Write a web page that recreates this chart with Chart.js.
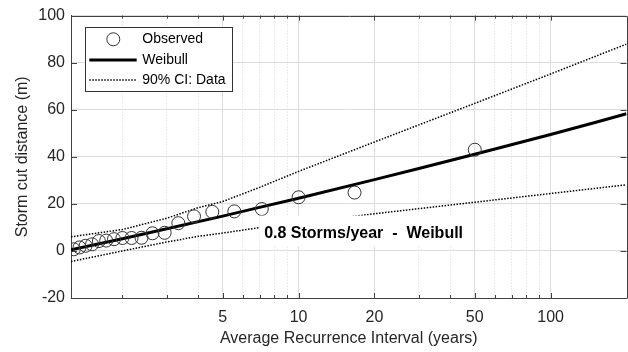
<!DOCTYPE html>
<html><head><meta charset="utf-8">
<script src="https://cdn.jsdelivr.net/npm/chart.js@4"></script>
<style>
html,body{margin:0;padding:0;background:#fff;overflow:hidden;width:628px;height:352px}
#wrap{position:relative;width:634px;height:352px}
</style>
</head><body><div id="wrap"><canvas id="c" width="634" height="352"></canvas></div>
<script>
// ---------- data ----------
const recurrence = [1.282,1.351,1.429,1.515,1.613,1.724,1.852,2.0,2.174,2.381,2.632,2.941,3.333,3.846,4.545,5.556,7.143,10,16.67,50];
const observed   = [0.7,1.5,2.2,2.8,4.2,4.4,5.0,5.5,5.5,5.6,7.5,7.7,11.8,14.7,16.6,16.8,17.8,22.8,24.8,43];

const fitT    = [1.25,2,3,5,7,10,20,30,50,100,150,200];
const weibull = [0.5,5.2,9.4,14.8,18.5,22.4,30.3,35.0,41.1,49.5,54.6,58.3];

const ciT     = [1.25,2,3,4,5,7,10,20,50,100,200];
const ciUpper = [6.0,9.1,13.9,18.4,21.0,27.0,33.8,46.3,62.7,75.2,87.9];
const ciLower = [-4.5,0.0,3.8,6.2,7.6,9.9,11.8,15.8,20.7,24.4,28.1];

const xGrid   = [2,3,4,5,6,7,8,9,10,20,30,40,50,60,70,80,90,100];
const xLabels = [5,10,20,50,100];
const yTicks  = [-20,0,20,40,60,80,100];

const annotationText = '0.8 Storms/year  -  Weibull';
const annotationAt = {x:7.3, y:5.5};

const FONT = '"Liberation Sans", Arial, Helvetica, sans-serif';
const AXIS = '#404040';
const TEXT = '#262626';

const pts = (xs, ys) => xs.map((v,i)=>({x:v,y:ys[i]}));

const framePlugin = {
  id:'frame',
  afterDatasetsDraw(chart){
    const {ctx, scales:{x,y}} = chart;
    ctx.save();
    const tx = x.getPixelForValue(annotationAt.x);
    const ty = y.getPixelForValue(annotationAt.y);
    ctx.font = 'bold 16px ' + FONT;
    const w = ctx.measureText(annotationText).width;
    ctx.fillStyle = '#fff';
    ctx.fillRect(tx-4.5, ty-22.4, w+10, 31);
    ctx.fillStyle = '#000';
    ctx.textBaseline = 'alphabetic';
    ctx.textAlign = 'left';
    ctx.fillText(annotationText, tx, ty);
    ctx.restore();
  },
  afterDraw(chart){
    const {ctx, chartArea:a, scales:{x,y}} = chart;
    const al = v => Math.round(v)+0.5;
    ctx.save();
    ctx.strokeStyle = AXIS; ctx.lineWidth = 1;
    ctx.beginPath();
    ctx.moveTo(al(a.left), al(a.top)); ctx.lineTo(al(a.right), al(a.top));
    ctx.moveTo(al(a.right), al(a.top)); ctx.lineTo(al(a.right), al(a.bottom));
    xGrid.forEach(v=>{
      const px = al(x.getPixelForValue(v));
      const L = xLabels.includes(v) ? 5 : 3;
      ctx.moveTo(px, a.bottom); ctx.lineTo(px, a.bottom-L);
      ctx.moveTo(px, a.top); ctx.lineTo(px, a.top+L);
    });
    yTicks.forEach(v=>{
      const py = al(y.getPixelForValue(v));
      ctx.moveTo(a.left, py); ctx.lineTo(a.left+6, py);
      ctx.moveTo(a.right, py); ctx.lineTo(a.right-6, py);
    });
    ctx.stroke();

    // legend
    const lx = a.left+14, ly = a.top+11, lw = 147, lh = 64;
    ctx.fillStyle = '#fff';
    ctx.fillRect(lx, ly, lw, lh);
    ctx.strokeStyle = '#333';
    ctx.strokeRect(al(lx), al(ly), lw, lh);
    const rows = [ly+12.7, ly+33.3, ly+53.3];
    ctx.beginPath(); ctx.arc(lx+28.3, rows[0], 6.5, 0, Math.PI*2);
    ctx.strokeStyle = '#333'; ctx.lineWidth = 1; ctx.stroke();
    ctx.beginPath(); ctx.moveTo(lx+4.3, rows[1]); ctx.lineTo(lx+51.7, rows[1]);
    ctx.strokeStyle = '#000'; ctx.lineWidth = 3; ctx.stroke();
    ctx.beginPath(); ctx.setLineDash([1.5,1.5]); ctx.moveTo(lx+4.3, rows[2]); ctx.lineTo(lx+51.7, rows[2]);
    ctx.lineWidth = 1.5; ctx.stroke(); ctx.setLineDash([]);
    ctx.fillStyle = '#000';
    ctx.font = '14px ' + FONT;
    ctx.textBaseline = 'middle';
    ctx.textAlign = 'left';
    ['Observed','Weibull','90% CI: Data'].forEach((t,i)=>ctx.fillText(t, lx+57.3, rows[i]));
    ctx.restore();
  }
};

new Chart(document.getElementById('c'), {
  type:'scatter',
  data:{datasets:[
    {label:'Observed', data:pts(recurrence, observed), showLine:false, pointStyle:'circle', pointRadius:6.5,
     pointBorderColor:'#333', pointBackgroundColor:'rgba(0,0,0,0)', pointBorderWidth:1, order:0},
    {label:'Weibull', data:pts(fitT, weibull), showLine:true, borderColor:'#000', borderWidth:3, pointRadius:0, order:1},
    {label:'90% CI: Data', data:pts(ciT, ciUpper), showLine:true, borderColor:'#000', borderWidth:1.5, borderDash:[1.5,1.5], pointRadius:0, order:2},
    {label:'90% CI lower', data:pts(ciT, ciLower), showLine:true, borderColor:'#000', borderWidth:1.5, borderDash:[1.5,1.5], pointRadius:0, order:2}
  ]},
  options:{
    responsive:false, animation:false, devicePixelRatio:1,
    layout:{padding:{left:0, top:13, right:1, bottom:0}},
    plugins:{legend:{display:false}, tooltip:{enabled:false}},
    scales:{
      x:{type:'logarithmic', min:1.25, max:200,
        afterBuildTicks: s => { s.ticks = xGrid.map(v=>({value:v})); },
        afterFit: s => { s.height = 54; },
        ticks:{autoSkip:false, maxRotation:0, minRotation:0, padding:10, color:TEXT, font:{size:16, family:FONT},
          callback:(v)=> xLabels.includes(v) ? String(v) : ''},
        grid:{drawTicks:false, lineWidth:1,
          color: c => (c.tick && !xLabels.includes(c.tick.value)) ? '#d8d8d8' : '#dcdcdc'},
        border:{display:true, color:AXIS, width:1,
          dash: c => (c.tick && !xLabels.includes(c.tick.value)) ? [1,2] : []},
        title:{display:true, text:'Average Recurrence Interval (years)', color:TEXT,
          font:{size:16, family:FONT}, padding:{top:0, bottom:4}}
      },
      y:{min:-20, max:100,
        afterBuildTicks: s => { s.ticks = yTicks.map(v=>({value:v})); },
        afterFit: s => { s.width = 71; },
        ticks:{padding:6, color:TEXT, font:{size:16, family:FONT}},
        grid:{drawTicks:false, color:'#dcdcdc', lineWidth:1},
        border:{display:true, color:AXIS, width:1},
        title:{display:true, text:'Storm cut distance (m)', color:TEXT,
          font:{size:16, family:FONT}, padding:{top:13.4, bottom:0}}
      }
    }
  },
  plugins:[framePlugin]
});
</script>
</body></html>
